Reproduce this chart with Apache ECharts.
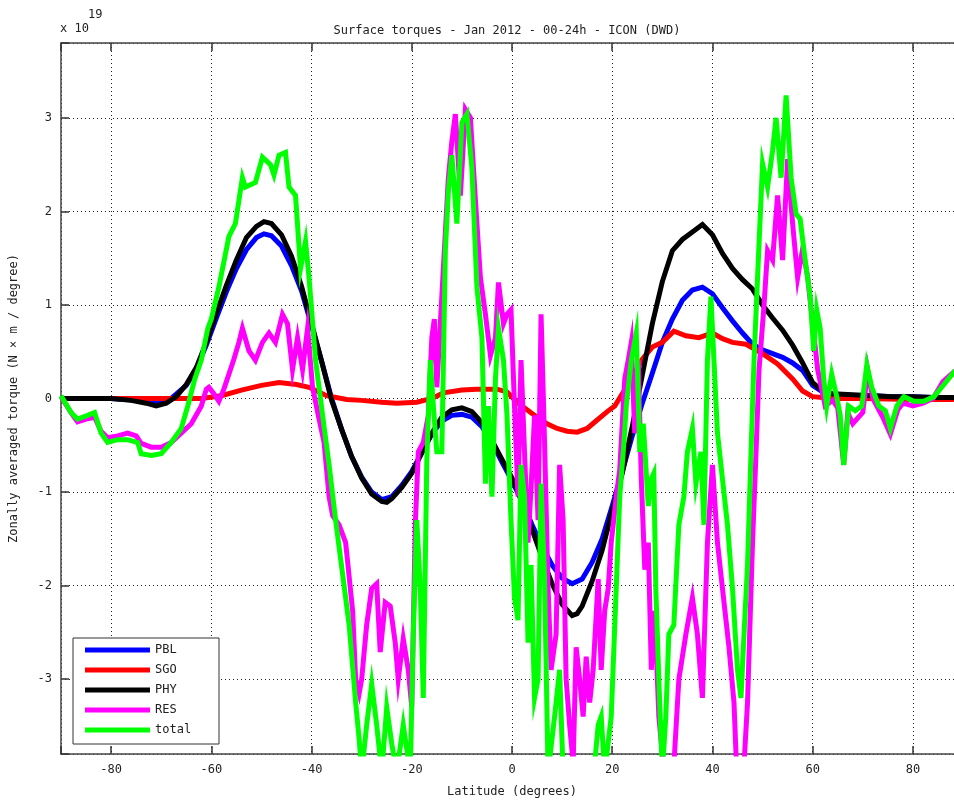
<!DOCTYPE html>
<html>
<head>
<meta charset="utf-8">
<script src="https://cdn.jsdelivr.net/npm/echarts@6/dist/echarts.min.js"></script>
<style>
html,body{margin:0;padding:0;background:#fff;}
#chart{width:954px;height:803px;}
</style>
</head>
<body>
<div id="chart"></div>
<script>
// ---- DATA (values in units of 1e19 N m / degree) ----
const seriesNames = ['PBL', 'SGO', 'PHY', 'RES', 'total'];
const xTickLabels = [-80, -60, -40, -20, 0, 20, 40, 60, 80];
const yTickLabels = [-3, -2, -1, 0, 1, 2, 3];

const latPHY = [-90,-85,-80,-76,-73,-71,-69,-67,-65,-63,-61,-59,-57,-55,-53,-51,-49.5,-48,-46,-44,-42,-40,-38,-36,-34,-32,-30,-28,-26,-25,-24,-22,-20,-18,-16,-14,-12,-10,-8,-6,-4,-2,0,2,4,6,8,10,12,13,14,16,18,20,22,24,26,28,30,32,34,36,38,40,42,44,46,48,50,52,54,56,58,60,62,64,68,72,76,80,84,88,90];
const valPHY = [0,0,0,-0.02,-0.05,-0.08,-0.05,0.02,0.15,0.33,0.6,0.91,1.21,1.48,1.72,1.84,1.89,1.87,1.75,1.52,1.2,0.8,0.4,-0.02,-0.33,-0.62,-0.85,-1.02,-1.1,-1.11,-1.07,-0.95,-0.8,-0.58,-0.37,-0.2,-0.12,-0.1,-0.14,-0.26,-0.45,-0.65,-0.85,-1.1,-1.4,-1.7,-1.98,-2.2,-2.32,-2.3,-2.22,-1.95,-1.62,-1.2,-0.8,-0.3,0.25,0.8,1.25,1.58,1.7,1.78,1.86,1.75,1.55,1.39,1.27,1.17,1.0,0.86,0.73,0.57,0.38,0.17,0.08,0.05,0.04,0.03,0.02,0.02,0.01,0.01,0];

const latPBL = [-90,-85,-80,-75,-72,-70,-68,-65,-63,-61,-59,-57,-55,-53,-51,-49.5,-48,-46,-44,-42,-40,-38,-36,-34,-32,-30,-28,-26,-24,-22,-20,-18,-16,-14,-12,-10,-8,-6,-4,-2,0,2,4,6,8,10,12,14,16,18,20,22,24,26,28,30,32,34,36,38,40,42,44,46,48,50,52,54,56,58,60,62,64,68,72,76,80,84,88,90];
const valPBL = [0,0,0,-0.02,-0.04,-0.05,0.0,0.14,0.32,0.57,0.86,1.14,1.39,1.59,1.72,1.76,1.74,1.63,1.42,1.15,0.78,0.4,0.0,-0.33,-0.62,-0.84,-1.0,-1.08,-1.05,-0.93,-0.78,-0.58,-0.38,-0.24,-0.18,-0.17,-0.2,-0.3,-0.47,-0.68,-0.88,-1.1,-1.35,-1.58,-1.78,-1.92,-1.98,-1.93,-1.75,-1.5,-1.15,-0.78,-0.4,-0.05,0.27,0.6,0.85,1.05,1.16,1.19,1.12,0.97,0.83,0.7,0.58,0.52,0.48,0.44,0.38,0.3,0.14,0.07,0.04,0.03,0.03,0.02,0.02,0.01,0.01,0];

const latSGO = [-90,-80,-70,-62,-58,-54,-50,-46.5,-43,-40.5,-37,-33,-30,-26,-23,-19,-16,-13.7,-10,-7,-3,-1,1,3,5,7,9,11,13,15,17,19,20.5,22,24,26,28,30,32.3,34.7,37.3,40,42,44,46.7,50,53,56,58,60,64,70,80,88,90];
const valSGO = [0,0,0,0,0.03,0.09,0.14,0.17,0.15,0.12,0.03,-0.01,-0.02,-0.04,-0.05,-0.04,0.0,0.06,0.09,0.1,0.1,0.07,-0.04,-0.12,-0.2,-0.27,-0.32,-0.35,-0.36,-0.32,-0.23,-0.14,-0.08,0.05,0.22,0.42,0.55,0.6,0.72,0.67,0.65,0.7,0.64,0.6,0.58,0.48,0.37,0.21,0.08,0.02,0.0,0.0,-0.01,-0.01,0];

const latRES = [-90,-88,-86.7,-85,-83.3,-82,-80.7,-78.7,-76.7,-75,-74,-72,-70,-68,-66,-64,-62,-61,-60.5,-59.5,-58.5,-57.5,-56.5,-55.5,-54.5,-53.8,-52.5,-51.2,-49.8,-48.5,-47.2,-45.8,-44.8,-43.8,-42.8,-41.8,-40.8,-39.8,-38.5,-37.5,-36.5,-35.8,-34.5,-33.2,-31.8,-31.2,-30.5,-30,-29,-28,-27,-26.3,-25.3,-24.3,-23.3,-22.7,-21.7,-20.7,-20,-19.3,-18.7,-17.7,-16.7,-16,-15.5,-15,-13.7,-12.7,-12,-11.3,-10.3,-9.3,-8.3,-7.3,-6.3,-5.3,-4.3,-3.3,-2.7,-1.7,-1,-0.2,0.5,1.2,1.8,2.5,3.2,3.8,4.5,5.2,5.8,6.5,7.2,7.8,8.8,9.5,10.2,10.8,11.5,12.2,12.8,13.5,14.2,14.8,15.5,16.2,17.2,17.8,18.5,19.2,19.8,20.8,21.5,22.5,23.2,23.8,24.5,25.2,25.8,26.5,27.2,27.8,28.5,29.3,30.7,32,33.3,34.7,36,37,38,39,40,41,42,43.3,44.3,45,46,47,48,48.7,49.3,50.3,51,52,53,54,55,56,57,58,59,60,61,62.5,64,65,66.2,67,68,70,71,72,74,75.5,77,78,80,82,84,86,88.3,90];
const valRES = [0.02,-0.15,-0.25,-0.22,-0.2,-0.35,-0.42,-0.4,-0.37,-0.4,-0.48,-0.52,-0.52,-0.47,-0.37,-0.27,-0.08,0.1,0.12,0.05,-0.03,0.1,0.26,0.42,0.6,0.75,0.51,0.41,0.6,0.7,0.6,0.9,0.8,0.31,0.65,0.31,0.75,0.12,-0.22,-0.47,-1.05,-1.25,-1.35,-1.54,-2.27,-3.0,-3.15,-3.0,-2.42,-2.03,-1.98,-2.71,-2.18,-2.22,-2.61,-3.0,-2.57,-2.9,-3.3,-1.35,-0.57,-0.47,-0.18,0.65,0.85,0.12,1.39,2.36,2.75,3.04,2.17,3.09,3.0,2.12,1.29,0.9,0.46,0.65,1.24,0.8,0.9,0.95,-0.08,-1.05,0.41,-0.57,-1.54,-0.96,-0.18,-1.3,0.9,-0.47,-2.03,-2.9,-2.52,-0.71,-1.3,-3.0,-3.49,-3.9,-2.66,-3.0,-3.4,-2.76,-3.25,-2.9,-1.93,-2.9,-2.27,-2.03,-1.54,-1.05,-0.76,0.21,0.41,0.6,-0.37,0.41,-0.86,-1.83,-1.54,-2.9,-2.27,-3.4,-4.2,-4.2,-3.0,-2.52,-2.13,-2.52,-3.2,-1.54,-0.71,-1.54,-2.03,-2.66,-3.25,-4.2,-4.2,-3.25,-1.54,-0.57,0.31,1.0,1.58,1.48,2.17,1.48,2.56,1.87,1.29,1.6,1.3,0.8,0.31,-0.08,-0.02,-0.1,-0.71,-0.15,-0.27,-0.15,0.3,0.0,-0.2,-0.38,-0.12,-0.05,-0.08,-0.05,0.0,0.18,0.29,0.33];

const latTOT = [-90,-88,-86.7,-84.7,-83.3,-82,-80.7,-78.7,-76.7,-74.7,-74,-72,-70,-68,-66,-64.7,-63.3,-62,-60.7,-60,-58.5,-56.5,-55.2,-53.8,-53.2,-51.2,-49.8,-48.2,-47.5,-46.5,-45.2,-44.5,-43.2,-42.2,-41.2,-40.5,-39.2,-37.8,-36.5,-35.2,-33.8,-32.5,-31.2,-30.5,-30,-29,-28,-27,-26,-25,-24,-23,-21.7,-20.3,-19.7,-19,-18.3,-17.7,-17,-16.3,-15.7,-15,-14,-13.3,-12.7,-12,-11,-10,-9,-8,-7,-6,-5.3,-4.7,-4,-3.3,-2.7,-1.7,-1,-0.2,0.5,1.2,1.8,2.5,3.2,3.8,4.5,5.2,5.8,6.5,7.2,8.5,9.5,10.2,12,14,16,17.2,17.8,18.5,19.8,20.8,21.5,22.2,22.8,23.8,24.8,25.5,26.2,27.2,27.8,28.3,28.7,29.3,30,30.7,31.3,32.3,33.3,34.3,35,36,36.7,37.7,38.3,39,39.7,40.3,41,42,43,44,45,45.7,46.3,47,47.7,48.3,49,50,51,52,52.7,53.7,54.7,55.7,56.7,57.5,58.5,59.5,60.2,60.8,61.5,62.2,62.8,63.8,64.8,65.5,66.2,67.2,68.5,69.8,70.8,71.8,73.2,74.5,75.5,76.8,78.2,80.2,82.2,84.2,86.2,88.3,90];
const valTOT = [0.03,-0.15,-0.22,-0.18,-0.15,-0.37,-0.47,-0.44,-0.44,-0.47,-0.59,-0.61,-0.59,-0.47,-0.32,-0.08,0.21,0.41,0.75,0.85,1.19,1.73,1.87,2.36,2.26,2.31,2.58,2.5,2.39,2.6,2.63,2.26,2.17,1.39,1.68,1.29,0.41,-0.18,-0.71,-1.3,-1.88,-2.42,-3.25,-3.64,-4.0,-3.49,-3.05,-3.49,-4.0,-3.3,-3.69,-4.0,-3.49,-4.0,-2.52,-1.3,-2.03,-3.2,-0.66,0.41,-0.08,-0.57,-0.57,1.58,2.21,2.6,1.87,2.95,3.04,2.46,1.19,0.65,-0.91,-0.08,-1.05,0.21,0.75,0.41,-0.18,-1.3,-2.13,-2.37,-0.71,-1.05,-2.61,-1.78,-3.2,-3.0,-0.91,-1.93,-4.0,-3.4,-2.9,-4.0,-4.2,-4.2,-4.2,-3.49,-3.4,-4.0,-3.4,-2.03,-1.05,-0.57,-0.08,0.41,0.7,-0.57,-0.27,-1.15,-0.86,-0.8,-2.03,-3.0,-4.0,-3.4,-2.52,-2.42,-1.35,-1.05,-0.57,-0.32,-0.91,-0.57,-1.35,0.41,1.09,0.41,-0.37,-0.86,-1.35,-2.03,-2.9,-3.2,-2.52,-1.78,-0.57,0.41,1.29,2.51,2.26,2.65,3.0,2.36,3.24,2.36,1.97,1.92,1.48,1.09,0.51,0.95,0.75,0.21,-0.08,0.26,0.02,-0.18,-0.71,-0.08,-0.13,-0.08,0.36,0.12,-0.08,-0.13,-0.32,-0.08,0.02,-0.03,-0.03,0.02,0.15,0.29,0.35];

const seriesLat = [latPBL, latSGO, latPHY, latRES, latTOT];
const seriesVal = [valPBL, valSGO, valPHY, valRES, valTOT];
const seriesColors = ['#0000ff', '#ff0000', '#000000', '#ff00ff', '#00ff00'];

// ---- CHART ----
const FONT = '"DejaVu Sans Mono", monospace';
const chart = echarts.init(document.getElementById('chart'), null, {renderer: 'canvas'});

const gridLine = {show: true, lineStyle: {type: [1, 3], color: '#222', width: 1}};
const frameLine = {show: true, onZero: false, lineStyle: {color: '#444', width: 1.5}};

const series = seriesNames.map((n, i) => ({
  name: n,
  type: 'line',
  data: seriesLat[i].map((x, j) => [x, seriesVal[i][j]]),
  showSymbol: false,
  symbol: 'none',
  clip: true,
  lineStyle: {color: seriesColors[i], width: 5, join: 'miter'},
  itemStyle: {color: seriesColors[i]},
  z: 2 + i,
  animation: false
}));

chart.setOption({
  animation: false,
  backgroundColor: '#fff',
  grid: {left: 61, top: 43, width: 902, height: 711, containLabel: false, outerBoundsMode: 'none'},
  xAxis: [{
    type: 'value', min: -90, max: 90, splitNumber: 9, position: 'bottom',
    axisLine: frameLine,
    axisTick: {show: true, inside: true, length: 8, lineStyle: {color: '#333', width: 1.5}},
    axisLabel: {
      fontFamily: FONT, fontSize: 12, color: '#222', margin: 10,
      formatter: v => (xTickLabels.indexOf(Math.round(v)) >= 0 && Math.abs(v - Math.round(v)) < 1e-6) ? String(Math.round(v)) : ''
    },
    splitLine: gridLine,
    name: 'Latitude (degrees)', nameLocation: 'middle', nameGap: 32,
    nameTextStyle: {fontFamily: FONT, fontSize: 12, color: '#222'}
  }, {
    type: 'value', min: -90, max: 90, splitNumber: 9, position: 'top',
    axisLine: frameLine,
    axisTick: {show: true, inside: true, length: 8, lineStyle: {color: '#333', width: 1.5}},
    axisLabel: {show: false},
    splitLine: {show: false}
  }],
  yAxis: [{
    type: 'value', min: -3.8, max: 3.8, splitNumber: 8, position: 'left',
    axisLine: frameLine,
    axisTick: {show: true, inside: true, length: 8, lineStyle: {color: '#333', width: 1.5}},
    axisLabel: {
      fontFamily: FONT, fontSize: 12, color: '#222', margin: 9,
      formatter: v => (yTickLabels.indexOf(Math.round(v)) >= 0 && Math.abs(v - Math.round(v)) < 1e-6) ? String(Math.round(v)) : ''
    },
    splitLine: gridLine,
    name: 'Zonally averaged torque (N × m / degree)', nameLocation: 'middle', nameGap: 41,
    nameRotate: 90,
    nameTextStyle: {fontFamily: FONT, fontSize: 12, color: '#222'}
  }],
  legend: {
    show: true,
    z: 100,
    data: seriesNames,
    orient: 'vertical',
    left: 73, top: 638,
    padding: [5, 12, 7, 12],
    itemWidth: 65, itemHeight: 5, itemGap: 6,
    icon: 'rect',
    backgroundColor: 'transparent',
    borderWidth: 0,
    textStyle: {fontFamily: FONT, fontSize: 12, color: '#222', lineHeight: 14},
    selectedMode: false
  },
  graphic: [
    {type: 'rect', z: 90, shape: {x: 73, y: 638, width: 146, height: 106}, style: {fill: '#fff', stroke: '#333', lineWidth: 1}, silent: true},
    {type: 'text', x: 507, y: 31, style: {text: 'Surface torques - Jan 2012 - 00-24h - ICON (DWD)', font: '12px ' + FONT, fill: '#222', textAlign: 'center', textVerticalAlign: 'middle'}},
    {type: 'text', x: 60, y: 29, style: {text: 'x 10', font: '12px ' + FONT, fill: '#222', textAlign: 'left', textVerticalAlign: 'middle'}},
    {type: 'text', x: 88, y: 15, style: {text: '19', font: '12px ' + FONT, fill: '#222', textAlign: 'left', textVerticalAlign: 'middle'}}
  ],
  series: series
});
</script>
</body>
</html>
